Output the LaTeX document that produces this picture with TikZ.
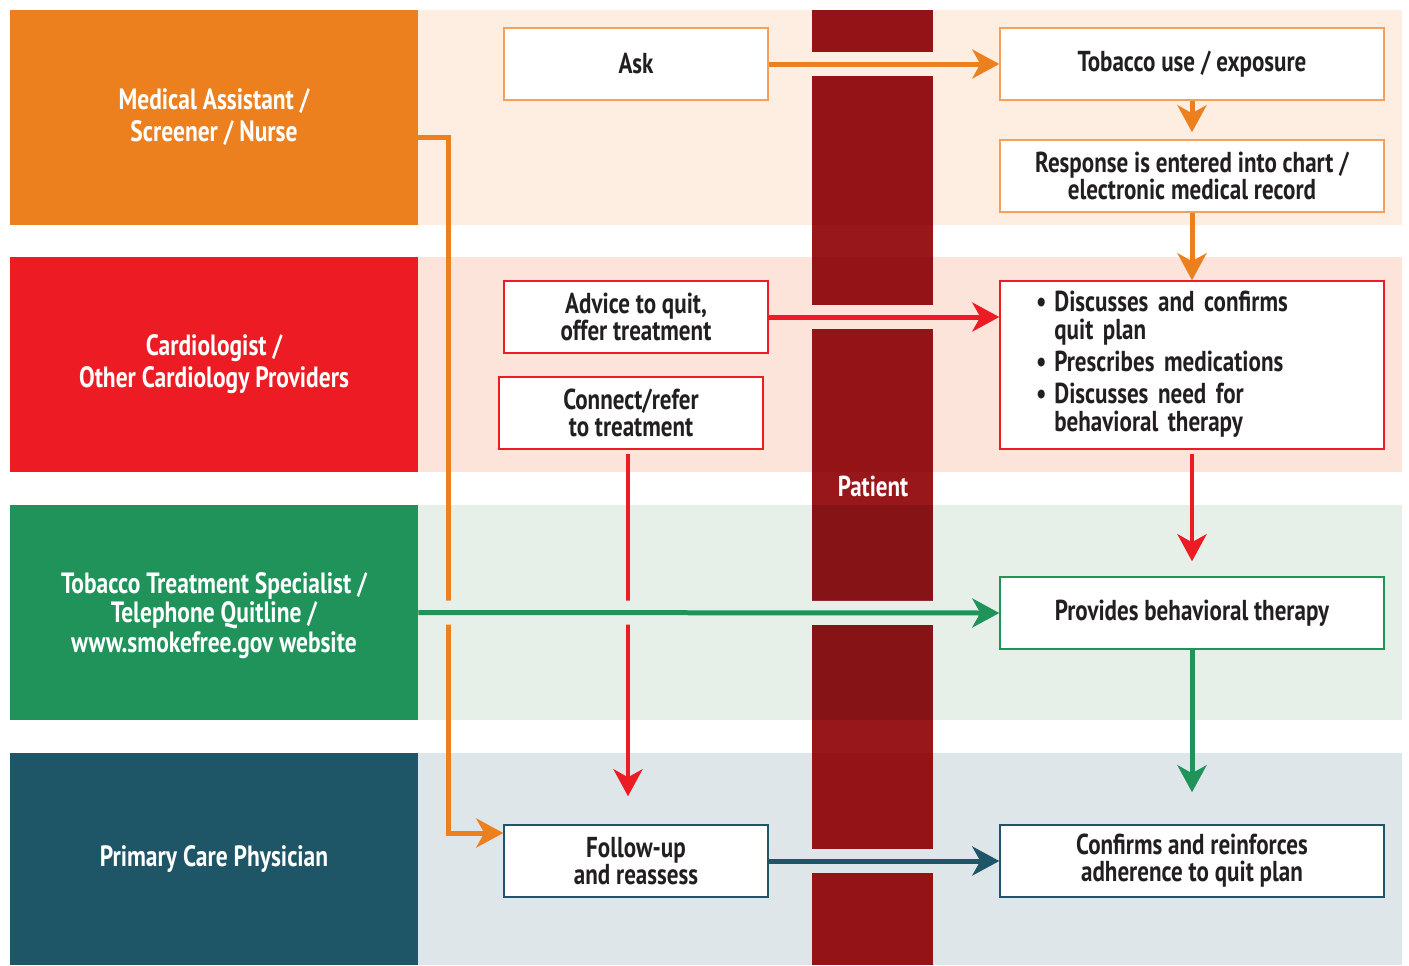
\documentclass[tikz,border=0pt]{standalone}
\usepackage{fontspec}
\setmainfont{PT Sans}[FakeStretch=0.8]
\usetikzlibrary{arrows.meta}

\definecolor{roleorange}{HTML}{EC7F1E}
\definecolor{rolered}{HTML}{ED1C24}
\definecolor{rolegreen}{HTML}{1F935A}
\definecolor{roleblue}{HTML}{1E5667}
\definecolor{bandorange}{HTML}{FDEEE1}
\definecolor{bandred}{HTML}{FCE4DA}
\definecolor{bandgreen}{HTML}{E6F0E8}
\definecolor{bandblue}{HTML}{DFE6EA}
\definecolor{patientred}{HTML}{931316}
\definecolor{patientdark}{HTML}{861417}
\definecolor{patientgap}{HTML}{97171B}
\definecolor{boxorange}{HTML}{F5A05A}
\definecolor{inktext}{HTML}{231F20}

\begin{document}
\begin{tikzpicture}[x=0.02cm,y=-0.02cm,
	role/.style={minimum width=8.16cm,minimum height=4.3cm,inner sep=0pt,text=white,align=center,
		font=\bfseries\fontsize{16.7}{18.2}\selectfont},
	actbox/.style={draw=#1,fill=white,line width=0.03cm,minimum width=5.28cm,minimum height=1.44cm,
		inner sep=0pt,align=center,text=inktext,font=\bfseries\fontsize{16.4}{15.3}\selectfont},
	widebox/.style={actbox=#1,minimum width=7.68cm},
	flow/.style={draw=#1,line width=0.1cm,-{Stealth[length=0.54cm,width=0.58cm,inset=0.16cm]}},
	halo/.style={draw=#1,line width=0.48cm,shorten >=0.6cm}]
				%%%%% BACKGROUND %%%%%
				\useasboundingbox (0,0) rectangle (1409,965);
				\fill[white] (0,0) rectangle (1409,965);

				\fill[bandorange] (418,10) rectangle (1402,225);
				\fill[bandred] (418,257) rectangle (1402,472);
				\fill[bandgreen] (418,505) rectangle (1402,720);
				\fill[bandblue] (418,753) rectangle (1402,965);

				%%%%% PATIENT BAR %%%%%
				\fill[patientred] (812,10) rectangle (933,965);
				\fill[patientgap] (812,225) rectangle (933,257);
				\fill[patientgap] (812,472) rectangle (933,505);
				\fill[patientgap] (812,720) rectangle (933,753);
				\fill[patientdark] (812,505) rectangle (933,720);

				%%%%% ROLES %%%%%
				\node[role,fill=roleorange] (medasst) at (214,117.5) {Medical Assistant /\\Screener / Nurse};
				\node[role,fill=rolered] (cardio) at (214,364.5) {Cardiologist /\\Other Cardiology Providers};
				\node[role,fill=rolegreen,font=\bfseries\fontsize{16.7}{16.8}\selectfont,text depth=-0.1cm] (tts) at (214,612.5) {Tobacco Treatment Specialist /\\Telephone Quitline /\\www.smokefree.gov website};
				\node[role,fill=roleblue,minimum height=4.24cm] (pcp) at (214,859) {Primary Care Physician};

				%%%%% STEPS %%%%%
				\node[actbox=boxorange] (ask) at (636,64) {Ask};
				\node[widebox=boxorange] (tobacco) at (1192,64) {Tobacco use / exposure};
				\node[widebox=boxorange] (response) at (1192,176) {Response is entered into chart /\\electronic medical record};

				\node[actbox=rolered] (advice) at (636,317) {Advice to quit,\\offer treatment};
				\node[actbox=rolered] (connect) at (631,413) {Connect/refer\\to treatment};
				\node[widebox=rolered,minimum height=3.36cm,text width=6.24cm,align=left] (plan) at (1192,365)
					{\def\arraystretch{0.96}\begin{tabular}{@{}l@{\hspace{4.5pt}}l@{}}
					 \textbullet & Discusses and confirms\\
					             & quit plan\\[2pt]
					 \textbullet & Prescribes medications\\[2pt]
					 \textbullet & Discusses need for\\
					             & behavioral therapy
					 \end{tabular}};

				\node[widebox=rolegreen] (behav) at (1192,613) {Provides behavioral therapy};

				\node[actbox=roleblue] (followup) at (636,861) {Follow-up\\and reassess};
				\node[widebox=roleblue] (confirm) at (1192,861) {Confirms and reinforces\\adherence to quit plan};

				%%%%% VERTICAL FLOWS %%%%%
				\coordinate (bend) at (448,833);
				\draw[flow=roleorange] ([yshift=-0.39cm]medasst.east) -| (bend) -- (bend -| followup.west);
				\draw[flow=rolered,line width=0.09cm,shorten <=0.08cm,shorten >=0.56cm] ([xshift=-0.06cm]connect.south) -- ([xshift=-0.06cm]connect.south |- followup.north);

				\draw[flow=roleorange,shorten >=0.14cm] (tobacco) -- (response);
				\draw[flow=roleorange] (response) -- (plan);
				\draw[flow=rolered,line width=0.09cm,shorten <=0.08cm,shorten >=0.3cm] (plan) -- (behav);
				\draw[flow=rolegreen,shorten >=0.64cm] (behav) -- (confirm);

				%%%%% HORIZONTAL FLOWS %%%%%
				\draw[halo=bandorange] (ask.east) -- (tobacco.west);
				\draw[flow=roleorange] (ask) -- (tobacco);
				\draw[halo=bandred] (advice.east) -- (plan.west |- advice.east);
				\draw[flow=rolered] (advice) -- (plan.west |- advice.east);
				\draw[halo=bandgreen] (tts.east) -- (behav.west);
				\draw[flow=rolegreen] (tts.east) -- (behav.west);
				\draw[halo=bandblue] (followup.east) -- (confirm.west);
				\draw[flow=roleblue] (followup) -- (confirm);

				\node[text=white,font=\bfseries\fontsize{16.4}{18}\selectfont] (patient) at (873,486) {Patient};
				%%%%% END %%%%%
\end{tikzpicture}
\end{document}
